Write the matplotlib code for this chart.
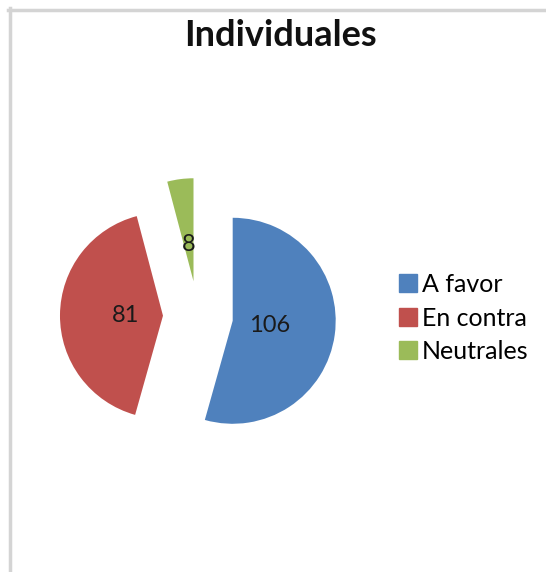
import matplotlib.pyplot as plt
from matplotlib.lines import Line2D
import matplotlib.patches as mpatches

TITLE = 'Individuales'
CATEGORIES = ['A favor', 'En contra', 'Neutrales']
VALUES = [106, 81, 8]
COLORS = ['#4F81BD', '#C0504D', '#9BBB59']

W, H = 546, 572
CX, CY, R = 198, 316, 103  # pie centre / radius in pixels

plt.rcParams['font.family'] = ['Lato', 'DejaVu Sans']

fig = plt.figure(figsize=(W / 100, H / 100), dpi=100)
ax = fig.add_axes([0, 0, 1, 1])

total = sum(VALUES)
wedges, texts, autotexts = ax.pie(
    VALUES, colors=COLORS, startangle=90, counterclock=False,
    explode=[0.34] * len(VALUES), radius=1, pctdistance=0.36,
    autopct=lambda p: f'{round(p * total / 100):d}',
    textprops={'fontsize': 17, 'color': '#1a1a1a'}, frame=True)
ax.set_xlim(-CX / R, (W - CX) / R)
ax.set_ylim(-(H - CY) / R, CY / R)
ax.set_aspect('auto')
ax.axis('off')

fig.text(280 / W, 1 - 36 / H, TITLE, ha='center', va='center',
         fontsize=26, fontweight='bold', color='#111111')

handles = [mpatches.Patch(color=c, label=l) for c, l in zip(COLORS, CATEGORIES)]
fig.legend(handles=handles, loc='center left', bbox_to_anchor=(386 / W, 1 - 318 / H),
           frameon=False, fontsize=18, handlelength=0.75, handleheight=0.75,
           handletextpad=0.2, labelspacing=0.42, borderpad=0)

# grey chart border (top and left edges visible)
fig.add_artist(Line2D([9.5 / W, 9.5 / W], [0, 1 - 8 / H], transform=fig.transFigure,
                      color='#d4d4d4', lw=2.5))
fig.add_artist(Line2D([8 / W, 1], [1 - 9.5 / H, 1 - 9.5 / H], transform=fig.transFigure,
                      color='#d4d4d4', lw=2.5))

fig.savefig('out.png', dpi=100, facecolor='white')
